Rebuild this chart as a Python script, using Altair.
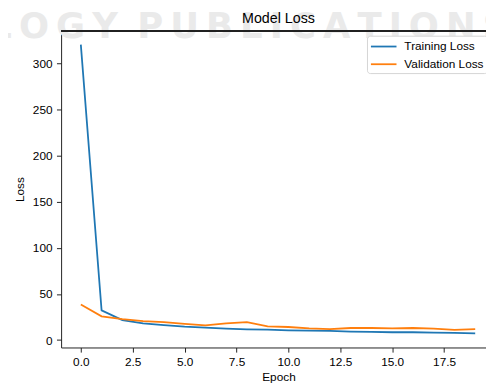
import altair as alt
import pandas as pd

epochs = list(range(20))
training_loss = [320, 32.2, 21.6, 18.0, 16.3, 14.5, 13.4, 12.4, 11.7, 11.3,
                 10.6, 10.3, 9.9, 9.2, 8.8, 8.5, 8.5, 8.1, 7.8, 7.4]
validation_loss = [38.6, 25.8, 22.6, 20.5, 19.5, 17.7, 15.9, 18.0, 19.5, 14.9,
                   14.2, 12.7, 12.0, 13.1, 13.1, 12.7, 13.1, 12.4, 11.0, 12.0]
series_names = ["Training Loss", "Validation Loss"]
series_colors = ["#1f77b4", "#ff7f0e"]
x_ticks = [0, 2.5, 5, 7.5, 10, 12.5, 15, 17.5]
y_ticks = [0, 50, 100, 150, 200, 250, 300]
chart_title = "Model Loss"
watermark_text = "\u2009".join("LOGY") + "\u00a0\u2009" + "\u2009".join("PUBLICATIONS")

rows = []
for name, vals in zip(series_names, [training_loss, validation_loss]):
    for e, v in zip(epochs, vals):
        rows.append({"Epoch": e, "Loss": v, "Series": name})
df = pd.DataFrame(rows)

FONT = "Liberation Sans"
W, H = 432, 322

watermark = alt.Chart(pd.DataFrame({"t": [watermark_text]})).mark_text(
    font="DejaVu Sans", fontWeight="bold", fontSize=36, color="#eaeaea",
    align="left", baseline="alphabetic"
).encode(text="t:N", x=alt.value(-73), y=alt.value(7))

title = alt.Chart(pd.DataFrame({"t": [chart_title]})).mark_text(
    font=FONT, fontSize=14.5, color="#000", align="center", baseline="alphabetic"
).encode(text="t:N", x=alt.value(221), y=alt.value(-8))

lines = alt.Chart(df).mark_line(strokeWidth=1.8).encode(
    x=alt.X("Epoch:Q",
            scale=alt.Scale(domain=[-0.95, 19.52], nice=False, zero=False),
            axis=alt.Axis(values=x_ticks, format=".1f", title="Epoch",
                          titleX=221, titleY=34, titleBaseline="alphabetic")),
    y=alt.Y("Loss:Q",
            scale=alt.Scale(domain=[-8, 335], nice=False, zero=False),
            axis=alt.Axis(values=y_ticks, format="d", title="Loss",
                          titleX=-38, titleY=161, titleBaseline="alphabetic")),
    color=alt.Color("Series:N",
                    scale=alt.Scale(domain=series_names, range=series_colors),
                    legend=alt.Legend(
                        title=None, orient="none", legendX=311, legendY=5,
                        symbolType="M-1,0H2.714", symbolSize=196,
                        symbolStrokeWidth=1.8, labelOffset=19,
                        labelFont=FONT, labelFontSize=12, labelColor="#000",
                        labelLimit=200,
                        padding=3, rowPadding=4, strokeColor="#d4d4d4",
                        fillColor="white", cornerRadius=3)),
)

top_border = alt.Chart(df).mark_rule(color="#222", strokeWidth=1).encode(
    x=alt.value(0), x2=alt.value(W), y=alt.value(0.5)
)

chart = alt.layer(watermark, title, lines, top_border).properties(
    width=W, height=H,
    autosize=alt.AutoSizeParams(type="none"),
    padding={"left": 54, "top": 20, "right": 0, "bottom": 37},
).configure_view(stroke=None).configure_axis(
    grid=False, domainColor="#222", tickColor="#222", domainWidth=1,
    tickWidth=1, tickSize=4.7, labelFont=FONT, labelFontSize=12,
    labelColor="#000", titleFont=FONT, titleFontSize=12, titleColor="#000",
    titleFontWeight="normal", labelPadding=4.5
)

chart.save("out.html", embed_options={"renderer": "svg", "actions": False})
